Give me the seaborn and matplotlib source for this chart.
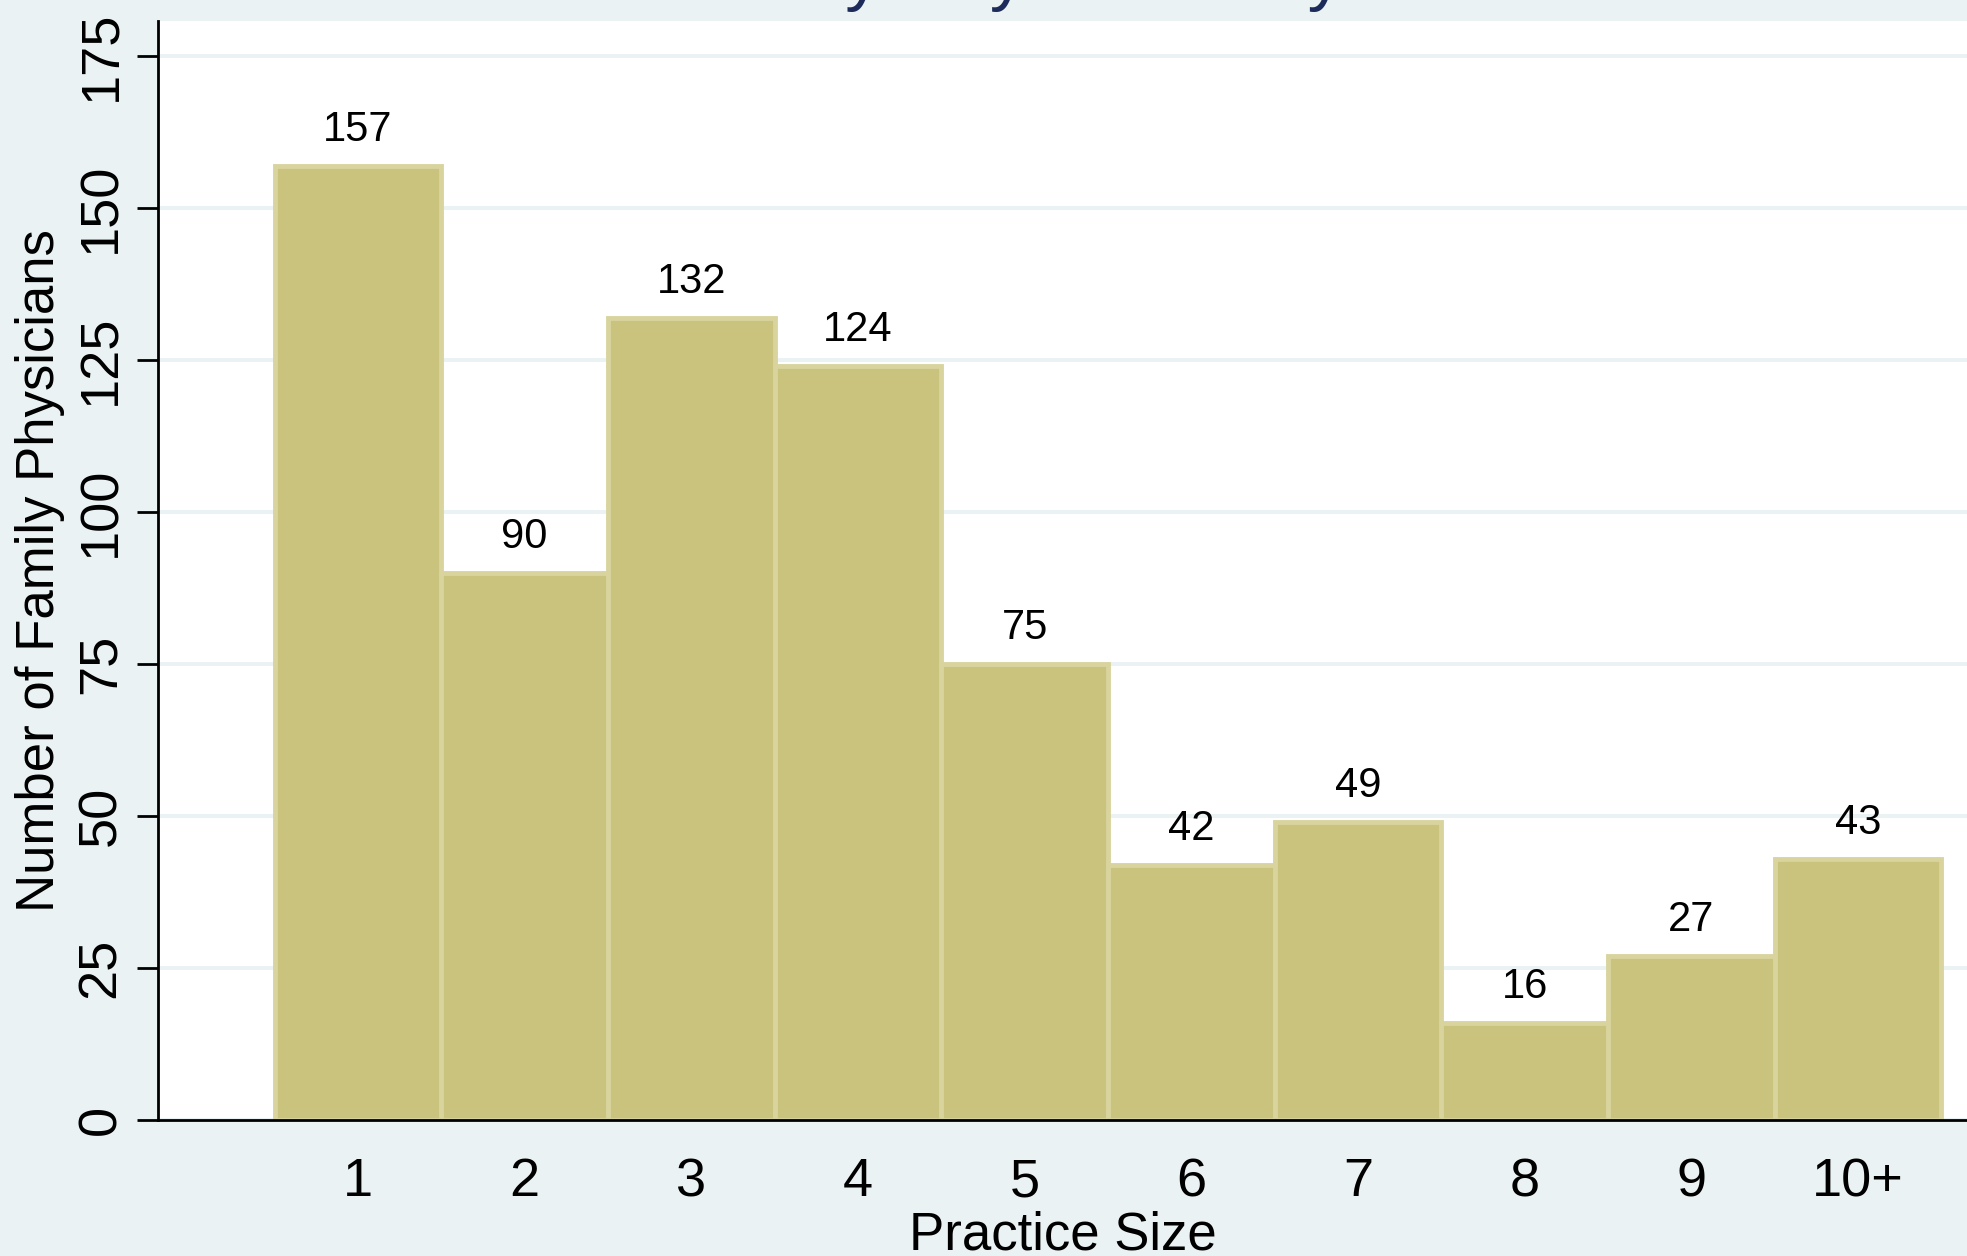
import matplotlib
matplotlib.use("Agg")
import matplotlib.pyplot as plt
import seaborn as sns
import pandas as pd

categories = ["1", "2", "3", "4", "5", "6", "7", "8", "9", "10+"]
counts = [157, 90, 132, 124, 75, 42, 49, 16, 27, 43]
y_ticks = [0, 25, 50, 75, 100, 125, 150, 175]
title_text = "Number of Family Physicians by Practice Size"
x_title = "Practice Size"
y_title = "Number of Family Physicians"

BG = "#EAF2F3"
BAR = "#CAC37E"
EDGE = "#D9D49E"
NAVY = "#1C2B5A"

sns.set_theme(style="white")
plt.rcParams["font.family"] = ["Liberation Sans", "DejaVu Sans"]

df = pd.DataFrame({"size": categories, "count": counts})

fig = plt.figure(figsize=(19.67, 12.56), dpi=100, facecolor=BG)
ax = fig.add_axes([158 / 1967, 1 - 1120 / 1256, 1 - 158 / 1967, (1120 - 21) / 1256])
ax.set_facecolor("white")

sns.barplot(data=df, x="size", y="count", order=categories, color=BAR,
            saturation=1, width=1.0, edgecolor=EDGE, linewidth=3.5, ax=ax, zorder=3)

ax.set_ylim(0, 180.8)
ax.set_xlim(-1.2, 9.654)
ax.set_yticks(y_ticks)
ax.yaxis.grid(True, color=BG, linewidth=2.8, zorder=0)
ax.xaxis.grid(False)
ax.set_axisbelow(True)

for s in ["top", "right"]:
    ax.spines[s].set_visible(False)
for s in ["left", "bottom"]:
    ax.spines[s].set_color("black")
    ax.spines[s].set_linewidth(2.0)
    ax.spines[s].set_zorder(5)

ax.tick_params(axis="both", which="both", direction="out", length=15, width=2.0,
               color="black", labelsize=39, labelcolor="black")
ax.tick_params(axis="x", pad=12)
ax.tick_params(axis="y", pad=8, labelrotation=90, left=True)
for lab in ax.get_yticklabels():
    lab.set_va("center")

for i, v in enumerate(counts):
    ax.annotate(str(v), xy=(i, v), xytext=(0, 18), textcoords="offset points",
                ha="center", va="baseline", fontsize=30, color="black", zorder=6)

ax.set_xlabel(x_title, fontsize=38, color="black")
ax.xaxis.set_label_coords(0.5, -0.1175)
ax.xaxis.label.set_va("baseline")
ax.set_ylabel(y_title, fontsize=38, color="black")
ax.yaxis.set_label_coords(-0.0652, 0.5)
ax.yaxis.label.set_va("center")

fig.text(1048 / 1967, 1 + 3 / 1256, title_text, ha="center", va="baseline",
         fontsize=52, color=NAVY)

fig.savefig("out.png", dpi=100, facecolor=BG)
